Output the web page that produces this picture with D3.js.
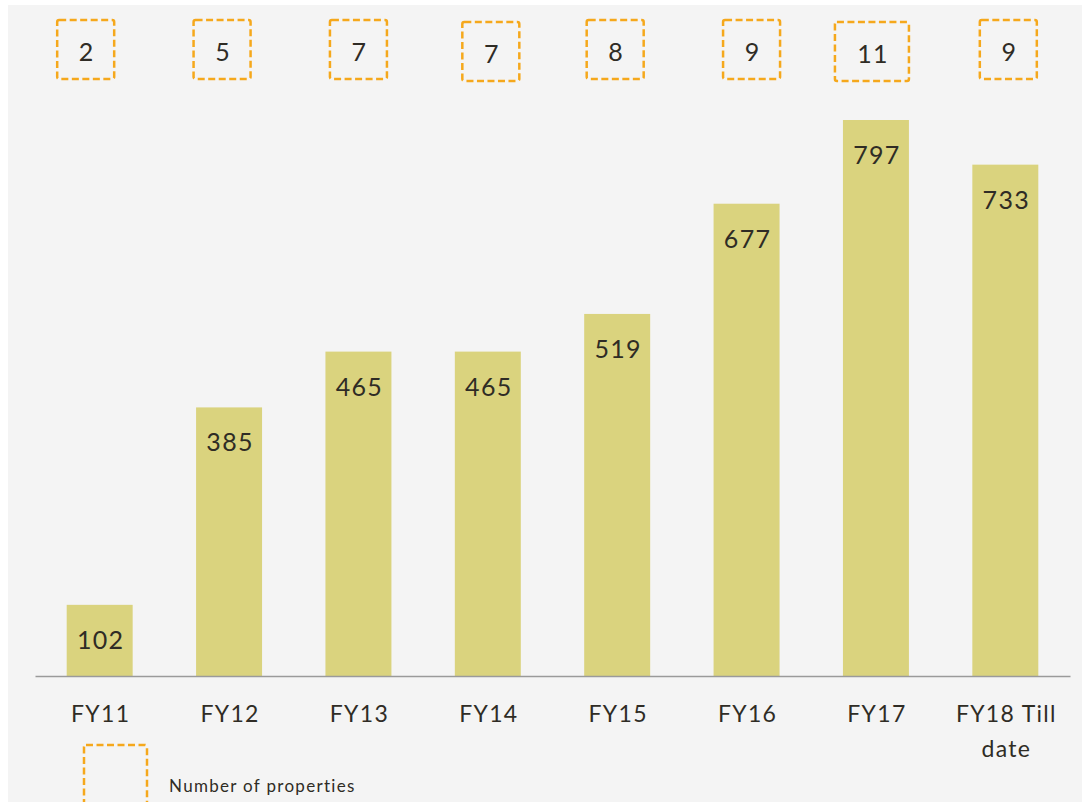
<!DOCTYPE html>
<html>
<head>
<meta charset="utf-8">
<script src="https://cdnjs.cloudflare.com/ajax/libs/d3/7.8.5/d3.min.js"></script>
<style>
  body { margin: 0; background: #ffffff; }
  svg text { font-family: "Lato", "Open Sans", sans-serif; fill: #2f2c25; letter-spacing: 1.3px; }
</style>
</head>
<body>
<svg></svg>
<script>
// chart data
var years = ["FY11", "FY12", "FY13", "FY14", "FY15", "FY16", "FY17", "FY18 Till date"];
var area = [102, 385, 465, 465, 519, 677, 797, 733];
var properties = [2, 5, 7, 7, 8, 9, 11, 9];

// layout only: how far each count box sits from its bar centre
var boxShift = [-14, -7, 0, 3, -2, 5, -4, 3];
var boxTop = [20, 20, 20, 22, 20, 20, 22, 20];

var screen = { width: 1082, height: 802 };
var svg = d3.select("svg")
  .attr("width", screen.width)
  .attr("height", screen.height);

// grey panel
svg.append("rect")
  .attr("x", 8).attr("y", 5)
  .attr("width", screen.width - 8)
  .attr("height", screen.height - 5)
  .attr("fill", "#f4f4f4");

var margins = { left: 35, right: 12, top: 120, baseline: 676 };

var xScale = d3.scaleBand()
  .domain(years)
  .range([margins.left, screen.width - margins.right])
  .paddingInner(0.49)
  .paddingOuter(0.245);

var yScale = d3.scaleLinear()
  .domain([0, 797])
  .range([margins.baseline, margins.top]);

var plot = svg.append("g").classed("plot", true);

plot.selectAll("rect.bar")
  .data(area)
  .enter()
  .append("rect")
  .classed("bar", true)
  .attr("x", function(d, i) { return xScale(years[i]); })
  .attr("y", function(d) { return yScale(d); })
  .attr("width", xScale.bandwidth())
  .attr("height", function(d) { return yScale(0) - yScale(d); })
  .attr("fill", "#dad37e");

plot.selectAll("text.val")
  .data(area)
  .enter()
  .append("text")
  .classed("val", true)
  .attr("x", function(d, i) { return xScale(years[i]) + xScale.bandwidth() / 2 + 1; })
  .attr("y", function(d) { return yScale(d) + 44; })
  .attr("text-anchor", "middle")
  .style("font-size", "25px")
  .text(function(d) { return d; });

// baseline axis
var xAxis = d3.axisBottom(xScale).tickSize(0).tickPadding(0);
var axisG = svg.append("g")
  .attr("transform", "translate(0," + margins.baseline + ")")
  .call(xAxis);
axisG.select(".domain").attr("stroke", "#9a9a9a").attr("stroke-width", 1.5);
axisG.selectAll(".tick text").remove();

axisG.selectAll(".tick").each(function(d) {
  var t = d3.select(this).append("text")
    .attr("text-anchor", "middle")
    .attr("y", 46)
    .style("font-size", "23px")
    .style("fill", "#2f2c25");
  var parts = d.indexOf("Till") > 0 ? ["FY18 Till", "date"] : [d];
  parts.forEach(function(p, k) {
    t.append("tspan").attr("x", 1).attr("dy", k === 0 ? 0 : 35).text(p);
  });
});

// dashed count boxes
var boxes = svg.append("g").classed("counts", true);
var boxG = boxes.selectAll("g")
  .data(properties)
  .enter()
  .append("g")
  .attr("transform", function(d, i) {
    var cx = xScale(years[i]) + xScale.bandwidth() / 2 + boxShift[i];
    return "translate(" + cx + "," + boxTop[i] + ")";
  });

boxG.append("rect")
  .attr("x", function(d) { return d >= 10 ? -37 : -28.5; })
  .attr("y", 0)
  .attr("width", function(d) { return d >= 10 ? 74 : 57; })
  .attr("height", 59)
  .attr("rx", 2)
  .attr("fill", "none")
  .attr("stroke", "#f5a81c")
  .attr("stroke-width", 2.5)
  .attr("stroke-dasharray", "7,3.5");

boxG.append("text")
  .attr("x", 1)
  .attr("y", 41)
  .attr("text-anchor", "middle")
  .style("font-size", "25px")
  .text(function(d) { return d; });

// legend
var legend = svg.append("g").classed("legend", true);
legend.append("rect")
  .attr("x", 84).attr("y", 745)
  .attr("width", 63).attr("height", 70)
  .attr("rx", 2)
  .attr("fill", "none")
  .attr("stroke", "#f5a81c")
  .attr("stroke-width", 2.5)
  .attr("stroke-dasharray", "7,3.5");
legend.append("text")
  .attr("x", 169).attr("y", 792)
  .style("font-size", "17px")
  .text("Number of properties");
</script>
</body>
</html>
